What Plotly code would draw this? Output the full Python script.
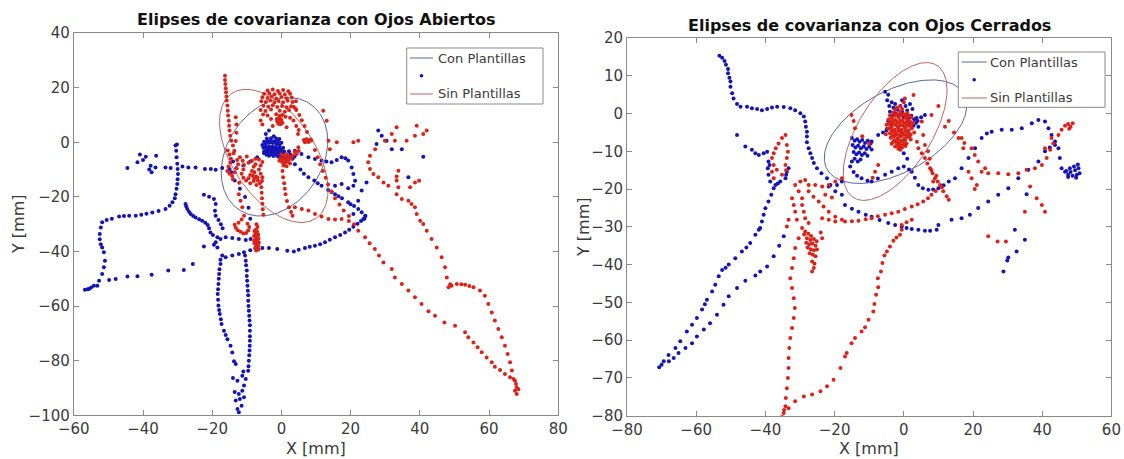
import numpy as np
import plotly.graph_objects as go

# ---------------- DATA ----------------
# Ojos Abiertos, Con Plantillas (blue)
ab_con_pts = [
    (-25.6,-44.6),(-28.2,-46.8),(-32.7,-47.0),(-37.5,-48.5),(-41.6,-49.1),(-44.5,-49.2),(-47.9,-50.1),(-49.8,-50.4),
    (-53.2,-52.5),(-55.0,-53.2),(-56.0,-53.8),(-56.8,-54.0),(-55.6,-53.7),(-54.2,-52.5),(-52.7,-50.7),(-51.8,-48.2),
    (-51.3,-45.8),(-51.0,-43.4),(-51.3,-40.3),(-51.8,-38.5),(-52.2,-37.3),(-52.5,-35.5),(-52.5,-33.6),(-52.2,-31.2),
    (-51.8,-29.3),(-50.5,-28.5),(-49.0,-28.0),(-46.9,-27.2),(-45.5,-27.0),(-44.0,-26.9),(-42.1,-26.9),(-40.5,-26.5),
    (-39.0,-26.2),(-37.3,-25.7),(-35.5,-25.2),(-33.5,-24.4),(-32.3,-23.2),(-31.5,-22.0),(-30.8,-20.5),(-30.6,-19.0),
    (-30.3,-17.0),(-30.1,-15.3),(-30.0,-13.5),(-29.9,-11.6),(-30.0,-9.8),(-30.1,-7.9),(-30.3,-5.5),(-30.4,-3.1),
    (-30.6,-1.2),(-30.2,-0.8),
    (-44.5,-9.4),(-41.6,-7.3),(-40.9,-4.5),(-39.2,-5.3),(-40.0,-6.5),(-37.8,-8.6),(-36.2,-4.9),(-37.5,-11.0),
    (-36.4,-9.2),(-38.2,-10.0),(-33.5,-9.2),(-32.0,-9.4),(-28.6,-8.9),(-26.9,-9.2),(-24.8,-9.2),(-22.1,-9.8),
    (-20.4,-9.8),(-19.0,-10.1),(-17.1,-9.4),
    (-27.7,-22.6),(-27.5,-23.5),(-27.2,-24.4),(-26.7,-25.4),(-26.2,-26.3),(-25.5,-27.0),(-24.8,-27.5),(-23.8,-28.2),
    (-22.9,-28.7),(-22.0,-29.5),(-21.3,-30.3),(-20.9,-31.5),(-20.5,-33.0),(-19.8,-34.0),(-18.5,-34.8),(-19.0,-36.6),
    (-18.5,-38.5),(-19.5,-37.5),(-22.4,-38.2),(-17.6,-35.4),(-16.1,-34.8),(-14.2,-35.1),(-12.3,-35.4),(-10.3,-35.8),
    (-8.9,-35.4),
    (-22.4,-19.2),(-20.9,-19.9),(-19.5,-20.8),(-19.0,-22.6),(-19.2,-25.1),(-19.0,-26.9),(-18.2,-28.5),(-17.5,-30.0),
    (-17.0,-31.5),
    (-17.1,-41.5),(-17.6,-43.0),(-17.6,-44.6),(-17.9,-46.5),(-18.0,-48.2),(-18.1,-50.0),(-18.2,-51.9),(-18.3,-53.8),
    (-18.4,-55.6),(-18.3,-57.7),(-18.2,-59.8),(-18.0,-61.4),(-17.8,-62.9),(-17.5,-64.8),(-17.3,-66.6),(-16.6,-69.0),
    (-16.1,-70.6),(-15.6,-72.1),(-14.7,-74.5),(-14.2,-77.0),(-13.7,-80.2),(-13.2,-81.2),(-14.0,-86.3),(-12.7,-87.3),
    (-13.5,-91.5),(-13.2,-94.6),(-12.7,-97.7),(-12.3,-98.9),(-11.5,-96.5),(-12.0,-94.0),(-11.3,-91.0),(-10.8,-93.4),
    (-12.3,-92.2),(-10.8,-89.1),(-10.3,-86.7),(-11.3,-85.5),(-11.0,-84.0),
    (-9.6,-83.7),(-9.5,-82.0),(-9.4,-80.0),(-9.3,-78.0),(-9.2,-76.3),(-9.15,-74.5),(-9.1,-72.7),(-9.1,-71.0),
    (-9.1,-69.0),(-9.1,-67.0),(-9.2,-65.3),(-9.3,-63.5),(-9.4,-61.7),(-9.5,-60.0),(-9.6,-58.0),(-9.6,-56.0),
    (-9.7,-54.4),(-9.8,-52.5),(-9.9,-50.7),(-10.0,-49.0),(-10.0,-47.0),(-10.2,-45.0),(-10.3,-43.4),(-10.5,-41.5),
    (-16.1,-42.1),(-14.2,-41.5),(-12.3,-40.9),(-10.8,-40.3),(-9.0,-39.5),(-7.5,-38.8),(-5.5,-38.7),(-3.6,-38.7),
    (-1.2,-39.1),(1.7,-39.7),(3.6,-40.0),(5.0,-39.4),(6.8,-38.7),(8.2,-38.3),(9.7,-37.9),(11.2,-37.3),
    (12.6,-36.6),(14.0,-35.7),(15.5,-34.8),(17.0,-34.0),(18.4,-33.0),(19.6,-32.0),(20.8,-30.9),(22.0,-29.8),
    (23.0,-28.8),(24.0,-28.0),(24.3,-27.0),
    (-5.5,-1.0),(-5.0,0.2),(-4.5,-0.5),(-4.0,0.5),(-3.5,-0.2),(-3.0,0.6),(-2.5,-0.3),(-2.0,0.4),(-1.5,-0.6),
    (-1.0,0.3),(-0.5,-0.8),(0.0,-0.2),(-5.2,-2.0),(-4.6,-1.6),(-4.1,-2.3),(-3.6,-1.5),(-3.1,-2.2),(-2.6,-1.6),
    (-2.1,-2.4),(-1.6,-1.7),(-1.1,-2.5),(-0.6,-1.8),(0.0,-2.6),(0.5,-2.0),(-5.0,-3.4),(-4.4,-3.0),(-3.9,-3.6),
    (-3.4,-2.9),(-2.9,-3.6),(-2.4,-3.0),(-1.9,-3.8),(-1.4,-3.1),(-0.9,-3.9),(-0.4,-3.2),(0.2,-4.0),(0.8,-3.4),
    (-4.3,-4.6),(-3.6,-4.9),(-3.0,-4.5),(-2.3,-5.0),(-1.6,-4.6),(-1.0,-5.2),(-0.3,-4.7),(0.5,-5.3),(1.2,-4.8),
    (-3.0,1.5),(-2.2,2.2),(-1.5,1.4),(-4.2,1.4),(-0.6,1.2),(1.8,-5.5),(2.6,-4.5),(3.2,-6.0),(2.2,-3.3),(3.8,-5.2),
    (-3.6,4.3),(-4.5,3.0),
    (1.5,-6.5),(3.9,-8.0),(5.5,-10.0),(6.5,-11.5),(7.8,-12.8),(9.5,-14.0),(10.5,-15.0),(11.6,-15.9),(13.5,-17.5),
    (14.5,-18.2),(15.5,-19.0),(16.5,-19.8),(17.5,-20.5),(19.3,-22.0),(20.0,-22.7),(21.0,-23.3),(22.2,-24.4),
    (23.2,-25.6),(24.2,-26.9),(23.7,-28.1),
    (3.9,-3.1),(5.8,-4.3),(7.8,-5.5),(9.7,-6.1),(11.6,-6.7),(13.0,-7.0),(14.5,-7.3),(16.0,-6.5),(17.4,-5.5),
    (18.5,-5.8),(19.3,-6.7),(20.3,-9.2),(20.8,-11.6),(21.3,-14.1),(20.8,-15.9),(19.3,-16.8),(17.4,-15.3),(15.5,-15.9),
    (-5.0,-4.0),(-7.0,-5.5),(-9.0,-7.0),(-11.0,-8.5),(-13.0,-9.5),(-15.0,-9.8),
    (-14.0,-7.0),(-14.5,-11.0),(-13.5,-14.0),(-12.0,-17.0),(-10.5,-20.0),(-9.5,-24.0),(-9.0,-28.0),
    (28.0,4.3),(29.0,2.4),(27.5,-0.6),(30.4,0.6),(31.9,-2.5),(34.8,-2.5),(41.0,-5.3),(36.7,-12.8),
    (23.2,-17.7),(24.6,-14.7),(22.2,-21.4),(20.8,-26.3),
]

# Ojos Abiertos, Sin Plantillas (red)
ab_sin_pts = [
    (-16.3,24.4),(-16.3,22.8),(-16.2,21.4),(-16.1,19.8),(-16.0,18.3),(-15.9,16.8),(-15.8,15.3),(-15.6,13.5),
    (-15.5,11.6),(-15.4,9.8),(-15.2,7.9),(-15.1,6.1),(-15.0,4.3),(-14.8,2.4),(-14.5,0.6),(-14.0,-1.2),(-13.6,-3.1),
    (-13.2,9.2),(-13.0,6.5),(-13.0,3.5),(-13.2,0.5),
    (-4.0,19.0),(-2.5,19.3),(-1.0,18.8),(0.5,19.2),(2.0,18.7),(-5.0,17.8),(-3.5,18.0),(-2.0,17.6),(-0.5,17.9),
    (1.0,17.5),(2.5,17.8),(-5.5,16.5),(-4.0,16.2),(-2.8,16.8),(-1.5,16.0),(0.0,16.6),(1.5,16.1),(3.0,16.4),
    (-5.8,15.0),(-4.5,14.8),(-3.2,15.3),(-2.0,14.6),(-0.8,15.1),(0.5,14.7),(1.8,15.2),(3.2,14.8),(4.2,15.0),
    (-5.2,13.4),(-3.8,13.0),(-2.5,13.6),(-1.2,12.9),(0.2,13.3),(1.5,12.8),(2.8,13.2),(4.0,12.5),
    (-6.0,11.8),(-4.6,11.5),(-3.0,12.0),(-0.5,11.6),(1.0,11.2),(2.2,11.8),
    (-5.3,10.2),(-4.0,9.8),(-1.5,10.3),(-0.5,9.6),(0.3,10.0),(1.2,9.4),
    (-1.3,8.5),(-0.7,8.8),(-0.1,8.4),(-1.2,7.7),(-0.6,7.4),(0.0,7.8),(-0.9,6.8),(-0.3,6.6),(0.3,7.1),
    (-6.0,8.0),(-5.5,6.5),(-3.0,8.5),(-2.5,6.0),(2.5,9.0),(3.5,8.0),(4.3,6.0),(5.0,4.5),(4.8,3.0),(1.5,5.5),
    (6.5,0.8),(7.0,0.4),(7.5,0.9),(8.0,0.5),(8.6,0.7),(7.2,1.1),(7.8,0.1),(6.8,0.0),
    (4.9,-1.8),(4.4,-4.3),(5.0,-3.2),(3.8,-3.5),
    (0.0,-4.5),(0.8,-5.0),(1.5,-4.4),(2.2,-5.2),(-0.3,-5.8),(0.5,-6.3),(1.3,-5.9),(2.0,-6.5),(2.8,-6.0),
    (0.2,-7.2),(1.0,-7.6),(1.8,-7.1),(2.5,-7.8),(0.6,-8.5),(1.5,-8.8),(-0.6,-6.8),(3.2,-4.8),
    (-15.5,-3.0),(-15.0,-4.5),(-14.6,-6.0),(-14.8,-7.5),(-15.3,-9.0),(-15.6,-10.5),(-15.0,-11.5),(-14.2,-12.3),
    (-13.5,-11.0),(-13.0,-9.5),(-12.5,-8.0),(-12.8,-6.5),(-12.0,-5.5),(-11.2,-6.8),(-10.8,-8.3),(-11.0,-10.0),
    (-11.5,-11.5),(-11.0,-13.0),(-10.2,-14.0),(-9.5,-13.2),(-9.0,-12.0),(-8.5,-10.5),(-8.0,-9.0),(-7.5,-8.0),
    (-7.8,-11.0),(-7.3,-12.5),(-6.8,-14.0),(-6.2,-15.0),(-5.6,-14.2),(-5.5,-12.8),(-6.0,-11.5),(-6.5,-10.0),
    (-6.0,-8.5),(-5.5,-7.2),(-6.5,-6.3),(-7.5,-6.0),(-8.5,-6.8),(-9.5,-7.5),(-10.0,-5.2),(-13.8,-4.0),
    (-14.0,-13.5),(-12.2,-14.8),(-9.0,-15.0),(-8.0,-14.2),(-7.2,-15.6),(-7.9,-13.3),(-6.9,-12.9),(-8.3,-12.2),
    (-5.8,-16.5),(-5.7,-18.5),(-5.6,-20.5),(-5.5,-22.5),(-5.4,-24.5),(-5.2,-26.5),
    (0.3,-10.5),(0.5,-12.8),(0.8,-15.0),(1.0,-17.0),(1.2,-19.0),(1.6,-21.5),(2.2,-23.8),(2.8,-25.5),(3.2,-26.9),
    (-12.3,-19.0),(-11.8,-21.4),(-11.3,-23.8),(-10.8,-26.9),(-11.5,-28.3),(-12.4,-29.5),
    (-13.5,-30.2),(-13.2,-31.3),(-12.6,-32.2),(-11.8,-32.8),(-11.0,-33.4),(-10.2,-33.2),(-9.6,-32.3),(-9.3,-31.0),
    (-9.8,-29.8),
    (-7.8,-32.5),(-7.0,-32.8),(-7.5,-33.5),(-6.7,-33.9),(-7.9,-34.3),(-7.2,-34.8),(-6.6,-35.3),(-7.6,-35.8),
    (-7.0,-36.3),(-6.5,-36.8),(-7.8,-37.0),(-7.2,-37.5),(-6.7,-38.0),(-7.5,-38.5),(-6.9,-39.0),(-7.3,-39.6),
    (-6.6,-39.3),(-7.9,-36.0),(-6.8,-34.0),(-7.4,-32.0),(-6.9,-31.0),(-7.2,-30.0),
    (3.9,-23.8),(5.9,-24.4),(7.8,-25.0),(9.7,-26.3),(11.6,-27.2),(13.6,-28.1),(15.5,-28.3),(17.4,-28.1),
    (19.5,-28.8),(21.0,-30.0),(22.2,-32.4),(24.2,-34.8),(25.5,-37.0),(27.0,-39.1),(28.2,-41.5),(29.5,-44.0),
    (31.9,-46.4),(32.8,-49.5),(34.8,-51.9),(36.7,-54.3),(38.6,-56.8),(40.5,-59.2),(42.5,-61.9),(44.4,-63.5),
    (47.1,-66.0),(50.2,-67.2),(53.1,-69.6),(54.0,-71.4),(55.5,-73.3),(56.7,-75.1),(57.9,-76.9),(59.3,-78.8),
    (60.8,-80.6),(61.7,-82.2),(63.2,-83.4),(64.6,-84.9),(66.1,-86.1),(67.5,-87.3),(68.0,-89.8),(68.0,-92.2),
    (67.5,-91.0),(68.5,-90.5),(67.8,-88.5),
    (3.5,13.0),(4.3,11.8),(5.2,10.0),(5.9,8.1),(6.7,6.0),(7.4,3.8),(8.5,1.0),(9.7,-2.8),(10.5,-5.5),(11.2,-8.0),
    (12.0,-10.5),(12.8,-13.0),(13.5,-15.5),(14.5,-18.0),(15.5,-20.5),(16.8,-22.8),(18.0,-25.0),(19.5,-27.0),
    (13.6,0.6),(16.0,0.0),(20.8,0.0),(22.2,0.6),(14.0,-2.5),(13.1,7.9),(12.1,11.6),
    (33.3,5.5),(31.9,3.0),(29.9,0.6),(32.8,0.6),(36.2,0.6),(39.1,6.1),(41.0,3.0),(42.0,4.3),(38.6,2.4),
    (27.1,-2.5),(25.6,-4.9),(25.1,-7.3),(25.6,-9.8),(26.6,-11.6),(28.0,-12.8),(29.5,-14.7),(30.9,-15.9),
    (33.8,-10.4),(33.3,-12.5),(33.3,-14.0),(33.8,-16.5),(33.3,-19.0),(34.8,-20.8),(36.7,-21.4),(37.6,-22.6),
    (38.6,-23.8),(39.1,-26.3),(40.1,-28.7),(37.2,-16.5),(38.6,-14.7),(39.8,-14.1),
    (41.0,-29.9),(42.0,-32.4),(43.4,-35.4),(44.9,-38.5),(46.3,-42.1),(47.3,-45.8),(47.8,-49.5),(48.3,-53.1),
    (48.8,-52.0),(49.2,-52.5),(50.7,-51.9),(52.0,-52.0),(53.1,-52.2),(54.3,-52.6),(55.5,-53.1),(57.4,-54.3),
    (58.8,-56.2),(59.8,-59.2),(60.8,-62.3),(61.7,-65.3),(62.7,-68.4),(63.7,-71.4),(64.6,-74.5),(65.4,-77.5),
    (66.1,-80.6),(66.6,-83.6),(67.1,-86.7),
]

# Ojos Cerrados, Con Plantillas (blue)
oc_con_pts = [
    (-53.3,15.3),(-52.5,14.8),(-51.8,13.9),(-51.4,12.9),(-50.8,11.8),(-50.8,10.7),(-50.4,9.5),(-50.1,8.5),
    (-50.1,7.1),(-49.6,5.4),(-49.2,4.0),(-48.2,2.5),(-47.2,1.8),(-45.3,1.8),(-43.9,1.4),(-42.4,1.2),(-41.0,0.9),
    (-39.5,1.2),(-38.1,1.6),(-36.6,1.8),(-34.7,1.7),(-32.8,1.4),(-31.4,0.9),(-29.9,0.1),(-28.9,-0.8),(-28.5,-2.1),
    (-28.3,-3.5),(-28.0,-4.8),(-28.0,-6.1),(-28.0,-7.6),(-27.5,-9.2),(-27.0,-10.5),(-26.5,-11.8),(-26.0,-13.1),
    (-25.1,-14.5),(-23.8,-15.8),(-22.2,-17.1),(-21.2,-18.9),(-19.3,-18.9),(-17.9,-18.0),
    (-48.2,-5.7),(-45.8,-8.7),(-43.9,-9.6),(-42.9,-10.5),(-41.9,-11.0),(-40.5,-10.5),(-39.5,-10.1),
    (-39.1,-12.7),(-39.3,-14.5),(-39.1,-16.2),(-38.6,-18.0),(-37.1,-18.9),(-35.7,-18.0),(-34.2,-17.1),(-33.8,-15.4),
    (-33.3,-14.5),(-34.0,-16.2),(-38.8,-13.6),(-36.4,-18.5),(-37.6,-19.8),(-38.3,-21.5),(-39.1,-23.3),(-40.0,-25.1),
    (-40.5,-26.8),(-41.0,-28.6),(-41.5,-30.3),
    (-41.9,-30.8),(-42.9,-32.1),(-44.4,-34.3),(-46.8,-36.5),(-48.7,-38.3),(-50.6,-40.0),(-52.5,-41.4),(-53.5,-43.1),
    (-54.5,-45.3),(-55.4,-47.1),(-56.9,-49.3),(-58.3,-51.9),(-59.8,-54.1),(-61.2,-55.9),(-62.7,-57.7),(-64.6,-60.3),
    (-66.0,-62.1),(-68.0,-63.9),(-69.4,-65.6),(-70.7,-67.2),(-70.0,-66.5),(-45.5,-35.5),(-51.5,-40.8),(-57.5,-50.5),
    (-34.7,-32.5),(-36.0,-35.0),(-37.6,-37.8),(-39.5,-40.5),(-41.5,-41.8),(-42.9,-42.9),(-45.8,-44.3),(-48.2,-46.2),
    (-50.6,-48.4),(-52.1,-50.6),(-54.0,-53.3),(-56.0,-55.5),(-57.8,-57.2),(-59.8,-59.0),(-61.2,-60.8),(-63.1,-62.1),
    (-65.1,-63.4),(-66.5,-64.7),(-67.9,-65.6),
    (-4.5,5.0),(-5.4,5.8),(-4.8,3.5),(-4.2,2.0),(-3.5,3.0),(-3.0,1.5),(-2.5,2.5),(-1.8,1.0),(-1.0,2.0),(-0.5,0.5),
    (-4.0,0.5),(-3.2,-0.5),(-2.4,0.0),(-1.5,-0.8),(-0.8,-0.2),(0.0,-1.0),(0.8,-0.3),(1.5,-1.2),(2.2,-0.6),
    (3.0,-1.5),(3.7,-1.2),(3.5,-2.5),(2.8,-3.2),(2.0,-2.4),(1.2,-3.0),(4.2,-3.5),(4.0,-2.0),(6.1,-0.4),
    (5.0,-1.0),(-4.5,-2.0),(-3.8,-3.0),(-4.8,-4.0),(-0.5,3.5),(0.5,2.0),(1.8,2.5),(2.5,1.2),(1.0,0.8),
    (-2.0,-7.5),(-1.0,-9.0),(0.0,-10.5),(1.0,-12.0),
    (-15.0,-6.5),(-14.2,-7.2),(-13.5,-6.8),(-12.8,-7.5),(-12.0,-7.0),(-11.2,-7.8),(-10.4,-7.2),(-9.6,-7.9),
    (-14.8,-8.3),(-14.0,-9.0),(-13.2,-8.5),(-12.4,-9.2),(-11.6,-8.7),(-10.8,-9.4),(-10.0,-8.8),(-9.3,-9.5),
    (-14.5,-10.2),(-13.7,-10.8),(-12.9,-10.3),(-12.1,-11.0),(-11.3,-10.5),(-10.5,-11.2),(-14.2,-12.0),(-13.3,-12.7),
    (-12.5,-12.2),(-9.3,-7.4),(-7.4,-5.7),(-6.0,-5.0),(-5.0,-4.5),
    (-15.0,-12.7),(-15.5,-14.0),(-14.5,-15.5),(-13.5,-16.5),
    (-12.2,-17.1),(-10.5,-17.8),(-9.3,-18.0),(-7.5,-17.2),(-5.4,-16.2),(-3.5,-15.4),(-1.6,-14.5),(0.0,-14.0),
    (1.5,-14.8),(2.3,-15.4),(3.2,-17.0),(4.2,-18.9),(5.5,-19.8),(7.1,-20.2),(8.5,-20.1),(10.0,-19.8),(11.5,-19.0),
    (13.0,-18.0),
    (14.8,-17.1),(16.7,-14.5),(18.7,-11.8),(20.6,-9.2),(22.5,-6.5),(24.0,-5.3),(25.4,-4.8),(28.3,-4.3),(31.2,-4.3),
    (34.1,-3.9),(37.0,-2.6),(38.9,-1.7),(40.8,-2.1),(41.8,-3.9),(42.7,-5.7),(43.7,-7.4),(44.7,-9.2),(45.1,-11.8),
    (45.6,-14.5),(46.6,-15.4),(47.5,-16.2),
    (10.0,-29.5),(13.8,-28.1),(16.7,-27.7),(19.1,-26.8),(21.5,-25.0),(24.4,-23.3),(27.3,-21.5),(30.2,-19.8),
    (33.1,-17.1),(36.0,-14.9),(38.9,-12.7),(40.8,-10.0),(42.2,-9.0),(43.7,-8.3),
    (47.5,-16.8),(48.2,-15.5),(48.8,-16.5),(49.5,-15.0),(50.0,-16.2),(50.5,-14.5),(50.8,-15.8),(49.2,-14.0),
    (48.0,-14.5),(50.3,-13.5),(47.0,-15.2),(49.8,-17.0),
    (-21.7,-19.3),(-19.8,-20.6),(-17.9,-21.5),(-17.0,-24.2),(-15.0,-25.2),(-13.1,-26.0),(-11.0,-26.8),(-9.3,-27.3),
    (-7.0,-28.2),(-4.5,-29.0),(-2.5,-29.5),(-0.6,-29.9),(0.8,-30.3),(2.3,-30.6),(4.2,-30.8),(6.1,-31.0),(7.6,-31.0),
    (9.5,-30.8),
    (32.1,-30.8),(35.0,-33.4),(32.6,-36.5),(30.2,-38.1),(29.9,-38.9),(28.8,-41.8),(35.5,-21.4),
]

# Ojos Cerrados, Sin Plantillas (red)
oc_sin_pts = [
    (-4.0,-0.5),(-3.0,0.2),(-2.0,-0.3),(-1.0,0.4),(0.0,-0.2),(1.0,0.3),(-4.4,-1.6),(-3.5,-1.2),(-2.5,-1.7),
    (-1.5,-1.1),(-0.5,-1.8),(0.5,-1.2),(1.5,-1.7),(2.2,-1.0),(-4.2,-2.8),(-3.2,-2.4),(-2.2,-3.0),(-1.2,-2.5),
    (-0.2,-3.1),(0.8,-2.6),(1.8,-3.2),(-4.5,-4.0),(-3.6,-3.6),(-2.6,-4.2),(-1.6,-3.7),(-0.6,-4.3),(0.4,-3.8),
    (1.4,-4.4),(2.3,-3.9),(-4.0,-5.2),(-3.0,-4.8),(-2.0,-5.4),(-1.0,-4.9),(0.0,-5.5),(1.0,-5.0),(2.0,-5.6),
    (-3.8,-6.4),(-2.8,-6.0),(-1.8,-6.6),(-0.8,-6.1),(0.2,-6.7),(1.2,-6.2),(2.0,-6.9),(-3.2,-7.6),(-2.2,-7.2),
    (-1.2,-7.8),(-0.2,-7.3),(0.8,-7.9),(-2.5,-8.7),(-1.5,-8.4),(-0.5,-9.0),(0.5,-8.6),(-1.0,-9.6),(-3.5,-8.0),
    (-3.5,-0.9),(-2.5,-0.6),(-1.5,-0.2),(-0.5,-0.5),(0.5,-0.4),(1.5,-0.6),(-3.9,-2.2),(-3.0,-1.9),(-2.0,-2.2),
    (-1.0,-1.9),(0.0,-2.3),(1.0,-2.0),(2.0,-2.4),(-3.8,-3.3),(-2.8,-3.0),(-1.8,-3.4),(-0.8,-3.1),(0.2,-3.5),
    (1.2,-3.2),(2.2,-3.4),(-3.5,-4.5),(-2.5,-4.9),(-1.5,-4.5),(-0.5,-5.0),(0.5,-4.6),(1.5,-5.2),(-3.3,-5.8),
    (-2.3,-5.6),(-1.3,-5.9),(-0.3,-5.6),(0.7,-5.9),(1.6,-6.1),(-2.8,-7.0),(-1.7,-6.9),(-0.7,-7.2),(0.4,-7.0),
    (-2.0,-8.0),(-1.0,-8.3),(0.0,-8.1),(-1.6,-9.3),
    (-5.0,-3.0),(-5.2,-5.5),(2.8,-2.5),(3.0,-5.0),(-0.5,1.2),(-2.5,1.0),
    (-1.0,2.0),(0.0,3.0),(0.3,4.0),(2.8,4.9),(-2.0,1.5),
    (3.8,-7.5),(4.2,-9.2),(5.2,-10.5),(6.1,-11.8),(6.8,-13.2),(7.6,-14.5),(8.3,-15.8),(9.0,-17.1),(9.8,-18.0),
    (10.5,-18.9),(11.4,-20.6),(12.4,-21.9),(13.0,-22.8),(11.0,-19.5),(9.4,-16.5),
    (5.2,-2.1),(5.6,-5.7),(6.1,-8.3),(7.0,-10.0),(7.5,-12.0),(8.0,-15.0),(8.5,-18.0),
    (-15.1,-0.4),(-14.5,-2.0),(-14.1,-3.9),(-12.0,-6.0),(-10.0,-8.0),(-7.4,-13.6),(-8.3,-15.4),(-9.0,-17.0),
    (8.0,-0.4),(11.9,-3.5),(16.7,-6.5),(17.2,-9.2),(13.0,-2.0),(10.0,2.0),(14.5,-5.0),
    (-17.0,-28.6),(-15.0,-28.5),(-13.1,-28.4),(-11.0,-28.0),(-9.3,-27.7),(-7.5,-27.2),(-5.4,-26.8),(-3.5,-26.4),
    (-1.6,-26.0),(0.3,-25.3),(2.3,-24.6),(4.0,-24.0),(5.6,-23.3),(7.0,-22.4),(8.0,-21.5),(9.2,-20.5),
    (-34.2,-5.7),(-35.2,-6.5),(-36.2,-7.9),(-37.0,-9.2),(-37.6,-10.5),(-38.1,-11.8),(-37.6,-13.6),(-36.7,-14.9),
    (-35.2,-16.2),(-33.8,-8.3),(-33.5,-10.1),(-33.8,-11.8),(-34.2,-13.6),(-34.0,-15.0),(-38.1,-15.4),(-37.6,-17.1),
    (-31.4,-18.9),(-29.9,-18.0),(-28.5,-17.6),(-27.5,-18.9),(-27.5,-20.6),(-26.1,-22.0),(-24.6,-23.3),(-23.2,-24.6),
    (-21.7,-26.0),(-19.8,-27.3),(-30.4,-20.6),(-29.4,-22.4),(-29.4,-24.2),(-28.9,-26.0),(-28.5,-27.7),(-27.5,-29.0),
    (-32.3,-22.4),(-31.8,-24.2),(-31.4,-26.0),(-30.9,-28.1),(-33.3,-28.1),(-33.8,-29.9),
    (-25.6,-18.9),(-23.6,-19.3),(-21.7,-18.9),(-19.8,-18.0),(-17.9,-17.1),(-22.7,-21.5),(-20.8,-22.2),
    (-23.6,-27.7),(-21.7,-28.1),(-19.8,-28.6),(-17.9,-28.1),
    (-29.4,-30.3),(-28.5,-31.2),(-27.6,-31.8),(-26.8,-32.4),(-28.0,-33.0),(-27.0,-33.5),(-26.0,-33.2),(-25.2,-33.8),
    (-28.2,-34.2),(-27.3,-34.6),(-26.4,-34.4),(-25.5,-35.0),(-27.8,-35.5),(-26.9,-35.9),(-26.0,-36.2),(-25.1,-36.0),
    (-27.2,-37.0),(-26.3,-37.4),(-25.5,-37.8),(-26.5,-39.2),(-26.0,-40.9),(-26.5,-41.8),(-25.8,-39.8),(-24.0,-31.5),
    (-23.6,-33.0),(-28.8,-32.0),
    (-30.4,-33.0),(-31.4,-35.6),(-31.8,-38.3),(-32.3,-40.9),(-32.8,-43.6),(-32.3,-46.2),(-31.8,-48.9),(-31.5,-51.5),
    (-31.8,-54.1),(-32.3,-56.8),(-32.8,-59.4),(-33.1,-62.1),(-33.3,-64.7),(-33.3,-67.4),(-33.5,-70.0),(-33.8,-72.7),
    (-34.1,-75.3),(-34.2,-77.5),(-34.7,-79.3),(-35.2,-80.2),(-34.6,-78.5),
    (-33.3,-78.0),(-31.4,-76.2),(-28.9,-74.9),(-26.5,-74.4),(-24.1,-73.5),(-22.2,-72.2),(-20.3,-70.5),(-18.3,-67.4),
    (-17.0,-64.3),(-16.5,-63.4),(-15.1,-60.8),(-14.1,-59.4),(-12.2,-57.7),(-11.2,-56.6),(-10.2,-54.6),(-8.8,-52.4),
    (-8.5,-50.4),(-8.0,-48.0),(-7.4,-46.0),(-7.5,-43.6),(-6.6,-41.8),(-6.2,-39.6),(-5.6,-37.6),(-4.9,-36.5),
    (-4.0,-35.2),(-3.0,-33.7),(-2.1,-32.8),(-1.1,-32.1),(-0.6,-30.8),(-0.6,-29.5),(0.8,-28.8),(2.3,-28.1),
    (18.7,-15.4),(19.6,-17.1),(21.1,-18.9),(20.5,-20.0),(22.5,-15.4),(24.4,-15.8),(27.3,-15.8),(30.2,-16.1),
    (33.1,-15.8),(35.5,-14.9),(37.9,-14.5),(39.9,-13.6),(41.3,-11.8),(42.3,-9.6),(43.2,-7.9),(44.7,-5.7),(45.6,-4.3),
    (46.6,-3.2),(47.5,-2.8),(48.2,-3.5),(48.8,-2.6),(47.8,-4.0),
    (15.8,-6.5),(17.5,-7.8),(19.6,-9.2),(20.5,-11.0),(21.5,-12.7),(23.5,-14.5),(40.8,-9.2),(42.7,-6.5),
    (36.5,-19.3),(38.4,-22.4),(39.9,-24.2),(40.8,-26.0),(35.0,-26.0),(24.4,-32.5),(27.1,-33.9),(29.5,-33.9),
]

# Covariance ellipse parameters: centre (x, y) and covariance entries (Sxx, Syy, Sxy)
ab_con_ellipse = dict(cx=-2.0, cy=-5.3, sxx=237.0, syy=471.0, sxy=88.0)
ab_sin_ellipse = dict(cx=-2.2, cy=-5.0, sxx=246.0, syy=595.0, sxy=-195.0)
oc_con_ellipse = dict(cx=-2.4, cy=-4.8, sxx=424.0, syy=188.0, sxy=143.0)
oc_sin_ellipse = dict(cx=-2.5, cy=-4.75, sxx=225.0, syy=333.0, sxy=165.0)

titles = ["Elipses de covarianza con Ojos Abiertos", "Elipses de covarianza con Ojos Cerrados"]
series_names = ["Con Plantillas", "Sin Plantillas"]
axis_labels = ["X [mm]", "Y [mm]"]
x_ticks_left = [-60, -40, -20, 0, 20, 40, 60, 80]
y_ticks_left = [-100, -80, -60, -40, -20, 0, 20, 40]
x_ticks_right = [-80, -60, -40, -20, 0, 20, 40, 60]
y_ticks_right = [-80, -70, -60, -50, -40, -30, -20, -10, 0, 10, 20]

# ---------------- STYLE ----------------
BLUE_DOT = "#1414b8"
RED_DOT = "#dd2218"
BLUE_LINE = "#5666a6"
RED_LINE = "#c0635f"
FONT = "DejaVu Sans"
TXT = "#3a3a3a"
AX = "#8a8a8a"
W, H = 1124, 459
OFF = 0  # page margin removed via post_script


def PX(x):
    return (x - OFF) / W


def PY(y):
    return 1 - (y - OFF) / H


def ellipse_xy(p):
    cov = np.array([[p["sxx"], p["sxy"]], [p["sxy"], p["syy"]]])
    L = np.linalg.cholesky(cov)
    t = np.linspace(0, 2 * np.pi, 241)
    pts = L @ np.vstack([np.cos(t), np.sin(t)])
    return p["cx"] + pts[0], p["cy"] + pts[1]


def unzip(pts):
    return [p[0] for p in pts], [p[1] for p in pts]


fig = go.Figure()

panels = [
    ("x", "y", ab_con_pts, ab_sin_pts, ab_con_ellipse, ab_sin_ellipse),
    ("x2", "y2", oc_con_pts, oc_sin_pts, oc_con_ellipse, oc_sin_ellipse),
]
for xa, ya, con_pts, sin_pts, con_el, sin_el in panels:
    ex, ey = ellipse_xy(con_el)
    fig.add_trace(go.Scatter(x=ex, y=ey, mode="lines", name=series_names[0],
                             line=dict(color=BLUE_LINE, width=1), xaxis=xa, yaxis=ya))
    cx, cy = unzip(con_pts)
    fig.add_trace(go.Scatter(x=cx, y=cy, mode="markers", name=series_names[0],
                             marker=dict(color=BLUE_DOT, size=4), xaxis=xa, yaxis=ya))
    ex, ey = ellipse_xy(sin_el)
    fig.add_trace(go.Scatter(x=ex, y=ey, mode="lines", name=series_names[1],
                             line=dict(color=RED_LINE, width=1), xaxis=xa, yaxis=ya))
    sx, sy = unzip(sin_pts)
    fig.add_trace(go.Scatter(x=sx, y=sy, mode="markers", name=series_names[1],
                             marker=dict(color=RED_DOT, size=4), xaxis=xa, yaxis=ya))

axis_common = dict(showgrid=False, zeroline=False, showline=True, linecolor=AX, linewidth=1,
                   mirror="ticks", ticks="inside", ticklen=5, tickcolor=AX, tickwidth=1,
                   automargin=False,
                   tickfont=dict(family=FONT, size=15, color=TXT))

# legend boxes (pixel positions in the page): box x0, x1, y0, y1; line x0, x1; text x; rows y
legends = [
    dict(box=(406.7, 543.0, 48.0, 104.0), line=(410.0, 433.0), tx=435.7, rows=(58.0, 75.7, 94.0)),
    dict(box=(958.3, 1105.0, 52.0, 107.3), line=(961.7, 986.7), tx=988.3, rows=(62.0, 79.7, 98.0)),
]

shapes = []
annotations = []
for lg in legends:
    bx0, bx1, by0, by1 = lg["box"]
    shapes.append(dict(type="rect", xref="paper", yref="paper", x0=PX(bx0), x1=PX(bx1),
                       y0=PY(by1), y1=PY(by0), line=dict(color=AX, width=1), fillcolor="white", layer="above"))
    lx0, lx1 = lg["line"]
    r0, r1, r2 = lg["rows"]
    shapes.append(dict(type="line", xref="paper", yref="paper", x0=PX(lx0), x1=PX(lx1), y0=PY(r0), y1=PY(r0),
                       line=dict(color=BLUE_LINE, width=1), layer="above"))
    shapes.append(dict(type="line", xref="paper", yref="paper", x0=PX(lx0), x1=PX(lx1), y0=PY(r2), y1=PY(r2),
                       line=dict(color=RED_LINE, width=1), layer="above"))
    mx = (lx0 + lx1) / 2
    shapes.append(dict(type="circle", xref="paper", yref="paper", x0=PX(mx - 1.8), x1=PX(mx + 1.8),
                       y0=PY(r1 + 1.8), y1=PY(r1 - 1.8), line=dict(width=0), fillcolor=BLUE_DOT, layer="above"))
    for txt, ry in ((series_names[0], r0), (series_names[1], r2)):
        annotations.append(dict(text=txt, x=PX(lg["tx"]), y=PY(ry), xref="paper", yref="paper",
                                xanchor="left", yanchor="middle", showarrow=False,
                                font=dict(family=FONT, size=13, color=TXT)))

# titles
for txt, cx_, cy_ in ((titles[0], 316, 19.5), (titles[1], 869, 25.5)):
    annotations.append(dict(text="<b>" + txt + "</b>", x=PX(cx_), y=PY(cy_), xref="paper", yref="paper",
                            xanchor="center", yanchor="middle", showarrow=False,
                            font=dict(family=FONT, size=16, color="#111111")))
# axis titles
for cx_ in (316, 869):
    annotations.append(dict(text=axis_labels[0], x=PX(cx_), y=PY(448), xref="paper", yref="paper",
                            xanchor="center", yanchor="middle", showarrow=False,
                            font=dict(family=FONT, size=16, color=TXT)))
for cx_, cy_ in ((18, 224), (583, 227)):
    annotations.append(dict(text=axis_labels[1], x=PX(cx_), y=PY(cy_), xref="paper", yref="paper",
                            xanchor="center", yanchor="middle", showarrow=False, textangle=-90,
                            font=dict(family=FONT, size=16, color=TXT)))

fig.update_layout(
    width=W, height=H,
    margin=dict(l=0, r=0, t=0, b=0, autoexpand=False),
    paper_bgcolor="white", plot_bgcolor="white",
    font=dict(family=FONT, color=TXT),
    showlegend=False,
    xaxis=dict(domain=[PX(73.8), PX(558.2)], range=[-60, 80], tickvals=x_ticks_left, anchor="y", **axis_common),
    yaxis=dict(domain=[PY(415.3), PY(33.1)], range=[-100, 40], tickvals=y_ticks_left, anchor="x", **axis_common),
    xaxis2=dict(domain=[PX(627.0), PX(1111.4)], range=[-80, 60], tickvals=x_ticks_right, anchor="y2", **axis_common),
    yaxis2=dict(domain=[PY(415.7), PY(38.0)], range=[-80, 20], tickvals=y_ticks_right, anchor="x2", **axis_common),
    shapes=shapes,
    annotations=annotations,
)

fig.write_html("out.html",
               config={"displayModeBar": False},
               post_script="document.body.style.margin='0';document.body.style.overflow='hidden';")
